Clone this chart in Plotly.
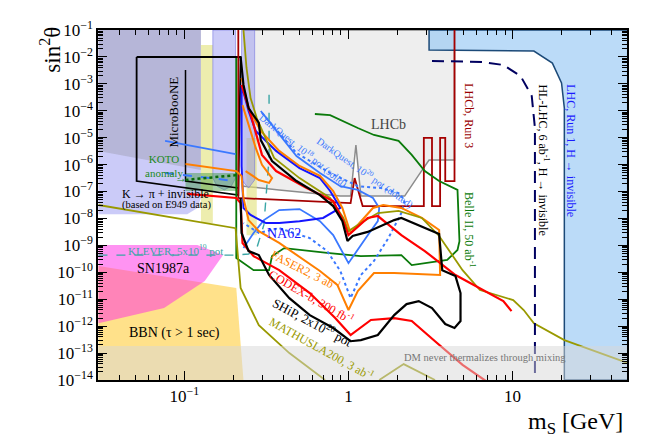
import numpy as np
import plotly.graph_objects as go

# Values: masses in GeV, couplings as log10(sin^2 theta)

# shaded regions
lhcb_m = [0.229, 4.43, 4.43, 3.10, 2.68, 2.20, 1.19, 1.11, 1.03, 0.892, 0.378, 0.229]
lhcb_lg = [-1, -1, -5.83, -5.83, -6.39, -7.17, -7.17, -5.27, -7.17, -7.17, -6.94, -6.80]

run1_m = [3.10, 50.4, 50.4, 20.7, 20.7, 19.9, 17.5, 13.5, 3.10, 3.10]
run1_lg = [-1, -1, -14, -14, -3.90, -2.97, -2.23, -1.78, -1.74, -1]

kpi_m = [0.0299, 0.126, 0.126, 0.120, 0.104, 0.0299]
kpi_lg = [-1, -1, -7.24, -7.61, -7.84, -7.84]

grey_m = [0.0299, 0.126, 0.126, 0.0299]
grey_lg = [-1, -1, -6.2, -5.49]

band_a_m = [0.149, 0.205, 0.205, 0.193, 0.175, 0.158, 0.149, 0.149]
band_a_lg = [-1, -1, -6.50, -6.80, -6.94, -6.80, -6.50, -1]
band_b_m = [0.223, 0.268, 0.268, 0.246, 0.223, 0.223]
band_b_lg = [-1, -1, -6.57, -6.87, -6.57, -1]

yel1_m = [0.126, 0.149, 0.149, 0.126]
yel1_lg = [-1.557, -1.557, -8.17, -8.17]
yel2_m = [0.239, 0.276, 0.276, 0.239]
yel2_lg = [-5.01, -5.01, -8.62, -8.62]

koto_m = [0.1015, 0.207, 0.207, 0.1015]
koto_lg = [-6.31, -6.31, -6.98, -6.98]

bbn_m = [0.0299, 0.207, 0.229, 0.0299]
bbn_lg = [-9.77, -10.58, -14, -14]

sn_m = [0.0299, 0.120, 0.172, 0.133, 0.0751, 0.0299]
sn_lg = [-8.99, -8.99, -9.36, -10.32, -11.33, -11.89]

dm_m = [0.0299, 50.4, 50.4, 0.0299]
dm_lg = [-12.74, -12.74, -14, -14]

# curves
ub_m = [0.0511, 0.220, 0.213, 0.0511, 0.0511]
ub_lg = [-2.003, -2.003, -7.13, -6.61, -2.003]
ub_in_m = [0.1015, 0.1015, 0.213]
ub_in_lg = [-2.49, -6.61, -6.87]

hl_m = [3.23, 6.6, 8.8, 11.2, 13.1, 13.7, 13.7]
hl_lg = [-2.15, -2.19, -2.30, -2.71, -3.45, -4.64, -13.82]

run3_m = [0.213, 0.213, 1.03, 1.09, 1.22, 2.88, 2.88, 3.23, 3.23, 3.62, 3.62, 3.89, 3.89, 4.43, 4.43]
run3_lg = [-1, -7.24, -7.43, -6.50, -7.54, -7.54, -5.01, -5.01, -7.54, -7.54, -5.01, -5.01, -6.61, -6.61, -1]

klever_m = [0.0299, 0.199, 0.246, 0.276, 0.305, 0.328, 0.328]
klever_lg = [-9.36, -9.36, -9.32, -9.10, -8.24, -5.75, -3.23]

math_up_m = [0.229, 0.239, 0.253, 0.276, 0.352, 0.503, 0.773, 0.931, 1.0, 1.19, 1.51,
             2.02, 2.80, 3.57, 4.96, 6.33, 10.1, 11.7, 13.5, 20.7, 50.4]
math_up_lg = [-1, -2.41, -3.53, -4.27, -5.75, -6.50, -7.24, -7.98, -8.47, -8.17, -7.80,
              -7.72, -7.98, -8.65, -9.92, -10.66, -11.03, -11.40, -11.89, -12.52, -13.37]
math_lo_m = [0.0299, 0.205, 0.220, 0.236, 0.284, 0.436, 0.720]
math_lo_lg = [-7.50, -8.36, -10.58, -10.96, -11.96, -13.0, -14.0]
math_bump_m = [1.54, 2.17, 3.37]
math_bump_lg = [-14, -13.41, -14]

ship_m = [0.220, 0.229, 0.246, 0.284, 0.292, 0.342, 0.482, 0.670, 0.807, 0.918, 0.986, 1.06,
          1.31, 1.90, 2.10, 3.57, 3.73, 4.49, 4.82, 4.82, 4.43, 3.89, 3.23, 2.68, 2.26, 1.90,
          1.51, 1.19, 1.03, 0.807, 0.581, 0.436, 0.328, 0.284, 0.246, 0.223, 0.220]
ship_lg = [-2.00, -3.04, -3.90, -4.45, -5.09, -5.87, -6.61, -7.13, -7.54, -8.10, -8.84, -8.65,
           -8.50, -8.06, -7.98, -8.58, -9.92, -10.14, -10.77, -11.81, -12.07, -11.92, -11.33,
           -11.07, -11.18, -11.59, -12.33, -12.52, -12.56, -12.07, -11.59, -10.96, -10.10,
           -9.36, -9.21, -8.54, -7.24]

codex_up_m = [0.223, 0.257, 0.297, 0.362, 0.556, 0.807, 0.931, 1.0, 1.31, 1.51, 2.10, 2.92, 4.49, 8.79, 9.86]
codex_up_lg = [-3.04, -4.27, -5.64, -6.24, -6.87, -7.35, -8.10, -8.62, -7.98, -7.91, -8.62, -9.21, -10.10, -11.07, -11.44]
codex_lo_m = [0.104, 0.207, 0.220, 0.226, 0.264, 0.378, 0.581, 0.830, 1.03, 1.37, 1.90, 2.43, 3.37, 4.96, 6.90]
codex_lo_lg = [-7.09, -7.24, -7.43, -8.91, -9.40, -9.92, -10.77, -11.70, -12.33, -11.77, -11.70, -11.81, -12.56, -13.44, -14.04]

faser_m = [0.223, 0.246, 0.292, 0.378, 0.503, 0.670, 0.807, 0.918, 1.03, 1.24, 1.41, 1.63, 2.10, 2.80,
           3.57, 3.62, 1.90, 1.43, 1.14, 1.0, 0.855, 0.670, 0.378, 0.284, 0.246, 0.229, 0.223, 0.207, 0.1015]
faser_lg = [-2.78, -3.90, -4.75, -5.49, -6.05, -6.42, -6.98, -7.61, -8.54, -7.98, -7.61, -7.50, -7.61, -7.98,
            -8.43, -10.10, -10.03, -10.03, -10.70, -11.40, -10.47, -9.95, -8.91, -8.47, -8.06, -7.24, -6.42, -6.24, -5.98]
faser_lobe_m = [0.226, 0.272, 0.297, 0.342, 0.328, 0.284, 0.236]
faser_lobe_lg = [-3.79, -5.38, -6.01, -6.50, -6.68, -6.57, -6.24]

na62_m = [0.223, 0.246, 0.272, 0.362, 0.503, 0.670, 0.773, 0.892, 0.700, 0.503, 0.378, 0.314, 0.253, 0.229, 0.223, 0.223]
na62_lg = [-3.04, -4.01, -4.75, -5.49, -6.13, -6.50, -6.98, -7.61, -7.98, -8.10, -8.17, -8.17, -7.87, -7.61, -6.05, -3.04]

dq18_m = [0.292, 0.352, 0.482, 0.670, 0.892, 1.14, 1.41, 1.54, 1.51, 1.31, 1.14, 1.0, 0.807, 0.670,
          0.503, 0.378, 0.305, 0.264, 0.229]
dq18_lg = [-4.01, -4.64, -5.68, -6.31, -6.80, -6.94, -7.24, -7.61, -8.10, -8.62, -9.17, -9.66, -8.62, -8.10,
           -7.65, -7.69, -8.06, -8.54, -9.10]
dq20_m = [0.297, 0.482, 0.773, 1.14, 1.58, 2.02, 2.20, 2.10, 1.75, 1.43, 1.19, 1.03, 0.892, 0.741,
          0.581, 0.378, 0.284, 0.229]
dq20_lg = [-4.08, -5.57, -6.31, -6.80, -6.87, -7.06, -7.32, -7.80, -8.73, -9.58, -10.10, -10.96, -9.95, -9.21,
           -8.73, -8.36, -8.54, -8.17]
dq_koto_m = [0.0762, 0.205]
dq_koto_lg = [-6.31, -6.61]
dq_short_m = [0.0762, 0.205]
dq_short_lg = [-5.12, -5.61]
koto_dot_m = [0.1015, 0.207]
koto_dot_lg = [-6.57, -6.39]

belle_m = [0.207, 0.207, 0.264, 0.328, 0.342, 0.406, 0.741, 1.19, 2.10, 2.43, 4.00, 4.62, 4.75, 4.62,
           3.57, 2.92, 2.43, 2.02, 1.43, 1.14, 0.773, 0.624]
belle_lg = [-2.04, -9.47, -9.92, -9.92, -9.40, -9.10, -9.28, -9.40, -9.36, -9.73, -9.54, -9.17, -8.84, -6.94,
            -6.61, -6.24, -5.64, -5.12, -4.90, -4.64, -4.16, -4.12]

y_ticks = list(range(-1, -15, -1))
x_ticks = [0.1, 1, 10]
x_ticktext = ["10<sup>\u22121</sup>", "1", "10"]

SERIF = "Liberation Serif"

fig = go.Figure()


def region(m, lg, fill, line=None, width=0):
    fig.add_trace(go.Scatter(x=m, y=10.0 ** np.array(lg), mode="lines", fill="toself",
                             fillcolor=fill, line=dict(color=line or "rgba(0,0,0,0)", width=width),
                             hoverinfo="skip", showlegend=False))


def curve(m, lg, color, width=2, dash=None):
    fig.add_trace(go.Scatter(x=m, y=10.0 ** np.array(lg), mode="lines",
                             line=dict(color=color, width=width, dash=dash),
                             hoverinfo="skip", showlegend=False))


# filled areas
region(lhcb_m, lhcb_lg, "#eeeeee", "#8c8c8c", 1.5)
region(kpi_m, kpi_lg, "rgba(140,140,240,0.45)")
region(grey_m, grey_lg, "rgba(120,120,120,0.25)")
region(yel1_m, yel1_lg, "rgba(225,225,120,0.6)")
region(yel2_m, yel2_lg, "rgba(225,225,120,0.6)")
region(band_a_m, band_a_lg, "rgba(140,140,240,0.45)", "rgba(100,100,220,0.5)", 1)
region(band_b_m, band_b_lg, "rgba(140,140,240,0.45)", "rgba(100,100,220,0.5)", 1)
region(bbn_m, bbn_lg, "rgba(255,205,60,0.6)")
region(sn_m, sn_lg, "rgba(255,40,230,0.5)")
region(koto_m, koto_lg, "rgba(60,150,60,0.45)")
region(run1_m, run1_lg, "rgba(150,200,245,0.65)", "#1c4a78", 1.5)

# lines
curve(ub_m, ub_lg, "black", 1.8)
curve(ub_in_m, ub_in_lg, "black", 1.5)
curve(klever_m, klever_lg, "#3aa6a6", 1.4, "dash")
curve(run3_m, run3_lg, "#a50000", 1.8)
curve(belle_m, belle_lg, "#0a7a0a", 1.8)
curve(dq18_m, dq18_lg, "#3a78ff", 1.8)
curve(dq_short_m, dq_short_lg, "#3a78ff", 1.8)
curve(dq20_m, dq20_lg, "#3a78ff", 2, "dot")
curve(dq_koto_m, dq_koto_lg, "#3a78ff", 2, "dash")
curve(koto_dot_m, koto_dot_lg, "#0a6a0a", 2.5, "dot")
curve(na62_m, na62_lg, "#1515ff", 2)
curve(faser_m, faser_lg, "#ff7f00", 2)
curve(faser_lobe_m, faser_lobe_lg, "#ff7f00", 2)
curve(math_up_m, math_up_lg, "#999900", 1.8)
curve(math_lo_m, math_lo_lg, "#999900", 1.8)
curve(math_bump_m, math_bump_lg, "#999900", 1.8)
curve(codex_up_m, codex_up_lg, "#ff0000", 2.2)
curve(codex_lo_m, codex_lo_lg, "#ff0000", 2.2)
curve(ship_m, ship_lg, "black", 2.2)
curve(hl_m, hl_lg, "#000060", 2, "12px,7px")

region(dm_m, dm_lg, "rgba(215,215,215,0.5)")

labels = [
    # text, x, y, size, angle, color, xanchor
    ("LHCb", 0.549, 0.729, 14, 0, "#444444", "center"),
    ("LHCb, Run 3", 0.701, 0.754, 12, 90, "#990000", "center"),
    ("HL-LHC, 6 ab<sup>-1</sup>, H \u2192 invisible", 0.842, 0.629, 12, 90, "black", "center"),
    ("LHC, Run 1, H \u2192 invisible", 0.894, 0.654, 12, 90, "#1a1aff", "center"),
    ("Belle II, 50 ab<sup>-1</sup>", 0.701, 0.429, 12, 90, "#0a7a0a", "center"),
    ("MicroBooNE", 0.143, 0.766, 13, -90, "black", "center"),
    ("KOTO<br>anomaly", 0.085, 0.611, 11, 0, "#1a8a1a", "left"),
    ("\u2192", 0.156, 0.578, 12, 0, "#1a8a1a", "center"),
    ("K \u2192 \u03c0 + invisible", 0.042, 0.531, 12, 0, "black", "left"),
    ("(based on E949 data)", 0.042, 0.499, 10.5, 0, "black", "left"),
    ("KLEVER, 5x10<sup>19</sup> pot", 0.052, 0.371, 11, 0, "#3aa6a6", "left"),
    ("SN1987a", 0.123, 0.32, 14, 0, "black", "center"),
    ("BBN (\u03c4 > 1 sec)", 0.145, 0.134, 14, 0, "black", "center"),
    ("NA62", 0.351, 0.42, 14, 0, "#1515ff", "center"),
    ("DarkQuest, 10<sup>18</sup> pot (solid)", 0.389, 0.657, 10, 39, "#3a78ff", "center"),
    ("DarkQuest, 10<sup>20</sup> pot (dotted)", 0.505, 0.594, 10, 35, "#3a78ff", "center"),
    ("FASER2, 3 ab<sup>-1</sup>", 0.393, 0.314, 12, 27, "#ff7f00", "center"),
    ("CODEX-b, 300 fb<sup>-1</sup>", 0.403, 0.24, 12, 30, "#ff0000", "center"),
    ("SHiP, 2x10<sup>20</sup> pot", 0.407, 0.167, 13, 28, "black", "center"),
    ("MATHUSLA200, 3 ab<sup>-1</sup>", 0.422, 0.089, 12, 29, "#999900", "center"),
    ("DM never thermalizes through mixing", 0.732, 0.063, 10.5, 0, "#777777", "center"),
]
for text, x, y, size, angle, color, anchor in labels:
    fig.add_annotation(text=text, x=x, y=y, xref="paper", yref="paper", showarrow=False,
                       textangle=angle, xanchor=anchor, yanchor="middle",
                       font=dict(family=SERIF, size=size, color=color))

fig.add_annotation(text="sin<sup>2</sup>\u03b8", x=-0.09, y=0.945, xref="paper", yref="paper",
                   xanchor="center", yanchor="middle", showarrow=False, textangle=-90,
                   font=dict(family=SERIF, size=23, color="black"))
fig.add_annotation(text="m<sub>S</sub> [GeV]", x=0.902, y=-0.123, xref="paper", yref="paper",
                   xanchor="center", yanchor="middle", showarrow=False,
                   font=dict(family=SERIF, size=24, color="black"))

axis_style = dict(showline=True, linecolor="black", linewidth=1.5, mirror="allticks",
                  ticks="inside", ticklen=9, tickwidth=1.2, tickcolor="black",
                  showgrid=False, zeroline=False, ticklabeloverflow="allow",
                  tickfont=dict(family=SERIF, size=17, color="black"))

x_minor = [k * 10.0 ** e for e in range(-2, 2) for k in range(2, 10)]
y_minor = [k * 10.0 ** e for e in range(-15, -1) for k in range(2, 10)]

fig.update_xaxes(type="log", range=[-1.527, 1.698], tickmode="array", tickvals=x_ticks,
                 ticktext=x_ticktext,
                 minor=dict(tickmode="array", tickvals=x_minor, ticks="inside", ticklen=5,
                            tickcolor="black", showgrid=False),
                 **axis_style)
fig.update_yaxes(type="log", range=[-14, -1], tickmode="array",
                 tickvals=[10.0 ** e for e in y_ticks],
                 ticktext=["10<sup>\u2212%d</sup>" % (-e) for e in y_ticks],
                 minor=dict(tickmode="array", tickvals=y_minor, ticks="inside", ticklen=5,
                            tickcolor="black", showgrid=False),
                 **axis_style)

# the page adds an 8px body margin, so the figure is 8px smaller than the window
fig.update_layout(width=646, height=437, margin=dict(l=90, r=27, t=10, b=65),
                  plot_bgcolor="white", paper_bgcolor="white", showlegend=False,
                  font=dict(family=SERIF))

fig.write_html("out.html")
